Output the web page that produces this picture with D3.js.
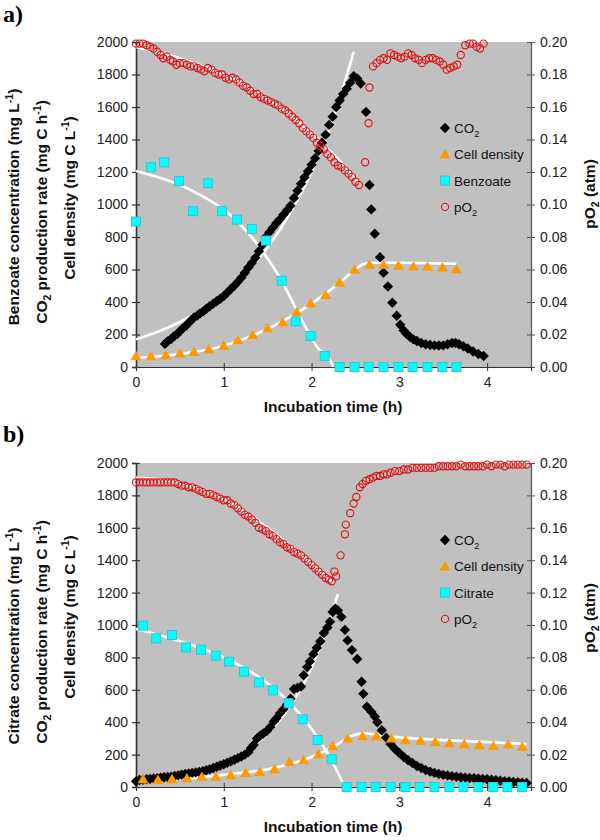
<!DOCTYPE html>
<html><head><meta charset="utf-8">
<script src="https://cdn.jsdelivr.net/npm/d3@7"></script>
<style>body{margin:0;background:#fff}text{font-family:"Liberation Sans",Arial,Helvetica,sans-serif}</style>
</head><body><svg id="c" width="600" height="840"></svg>
<script>
// ---------- data ----------
const xTicks=[0,1,2,3,4];
const yTicks=[0,200,400,600,800,1000,1200,1400,1600,1800,2000];
const pTicks=[0,0.02,0.04,0.06,0.08,0.10,0.12,0.14,0.16,0.18,0.20];

// Panel a (benzoate)
const aCO2=[[0.33,142],[0.36,158],[0.40,172],[0.43,188],[0.47,203],[0.50,220],[0.53,236],[0.57,254],[0.60,272],[0.63,288],[0.66,305],[0.70,318],[0.73,330],[0.77,344],[0.80,358],[0.84,374],[0.88,390],[0.92,405],[0.96,420],[1.00,436],[1.04,458],[1.08,480],[1.12,500],[1.16,524],[1.20,550],[1.24,580],[1.28,612],[1.32,640],[1.36,672],[1.40,712],[1.44,752],[1.48,800],[1.52,830],[1.56,858],[1.60,886],[1.64,910],[1.68,938],[1.72,964],[1.76,992],[1.80,1040],[1.84,1085],[1.88,1128],[1.92,1168],[1.96,1205],[2.00,1245],[2.04,1285],[2.08,1330],[2.12,1380],[2.16,1430],[2.20,1490],[2.24,1540],[2.28,1600],[2.32,1640],[2.36,1680],[2.40,1712],[2.44,1750],[2.48,1790],[2.52,1775],[2.56,1745],[2.62,1570],[2.66,1120],[2.68,970],[2.72,820],[2.78,675],[2.82,580],[2.87,495],[2.92,395],[2.97,315],[3.01,260],[3.05,225],[3.08,205],[3.12,186],[3.16,170],[3.20,160],[3.25,148],[3.30,140],[3.35,135],[3.40,133],[3.45,132],[3.50,133],[3.55,140],[3.60,148],[3.64,148],[3.68,140],[3.73,128],[3.78,114],[3.84,95],[3.90,80],[3.96,68]];
const aCell=[[0,68],[0.17,68],[0.34,74],[0.50,84],[0.66,94],[0.83,111],[1.00,132],[1.16,167],[1.33,198],[1.50,239],[1.67,276],[1.83,338],[1.99,393],[2.16,444],[2.32,519],[2.49,599],[2.66,630],[2.82,630],[2.99,625],[3.16,619],[3.32,619],[3.49,613],[3.65,603]];
const aSub=[[0,895],[0.17,1230],[0.32,1259],[0.49,1144],[0.65,959],[0.82,1131],[0.98,959],[1.15,907],[1.32,850],[1.48,778],[1.66,531],[1.82,280],[1.99,191],[2.15,68],[2.32,0],[2.49,0],[2.65,0],[2.82,0],[2.99,0],[3.15,0],[3.32,0],[3.49,0],[3.65,0]];
const aPO2=[[0,0.199],[0.04,0.199],[0.08,0.199],[0.12,0.198],[0.16,0.197],[0.20,0.196],[0.24,0.194],[0.28,0.192],[0.31,0.190],[0.35,0.191],[0.39,0.189],[0.42,0.188],[0.46,0.186],[0.50,0.187],[0.54,0.187],[0.58,0.186],[0.62,0.185],[0.66,0.185],[0.70,0.184],[0.74,0.183],[0.78,0.182],[0.82,0.184],[0.86,0.183],[0.90,0.181],[0.94,0.180],[0.98,0.180],[1.02,0.178],[1.06,0.177],[1.10,0.178],[1.14,0.177],[1.18,0.175],[1.22,0.173],[1.26,0.172],[1.30,0.170],[1.34,0.168],[1.38,0.168],[1.42,0.166],[1.46,0.165],[1.50,0.164],[1.54,0.163],[1.58,0.162],[1.62,0.161],[1.66,0.159],[1.70,0.158],[1.74,0.156],[1.78,0.154],[1.82,0.152],[1.86,0.150],[1.90,0.147],[1.94,0.145],[1.98,0.143],[2.02,0.141],[2.06,0.138],[2.10,0.136],[2.14,0.134],[2.18,0.131],[2.22,0.129],[2.26,0.126],[2.30,0.124],[2.34,0.123],[2.38,0.121],[2.42,0.119],[2.46,0.117],[2.50,0.114],[2.54,0.112],[2.61,0.126],[2.65,0.150],[2.66,0.172],[2.70,0.185],[2.74,0.187],[2.78,0.189],[2.82,0.190],[2.86,0.189],[2.90,0.193],[2.94,0.192],[2.98,0.191],[3.02,0.190],[3.06,0.191],[3.10,0.193],[3.14,0.192],[3.18,0.190],[3.22,0.189],[3.26,0.187],[3.30,0.189],[3.34,0.190],[3.38,0.190],[3.42,0.189],[3.46,0.188],[3.50,0.186],[3.54,0.183],[3.58,0.184],[3.62,0.185],[3.66,0.186],[3.70,0.192],[3.75,0.198],[3.80,0.199],[3.84,0.199],[3.88,0.197],[3.92,0.196],[3.96,0.199]];
const aFitCO2=[[0,170],[0.25,217],[0.5,277],[0.75,354],[1.0,452],[1.25,577],[1.5,737],[1.75,941],[2.0,1201],[2.25,1533],[2.48,1940]];
const aFitCell=[[0,55],[0.5,80],[1.0,130],[1.5,235],[2.0,390],[2.3,510],[2.5,600],[2.6,635],[2.7,642],[3.0,642],[3.65,635]];
const aFitSub=[[0,1206],[0.65,1082],[1.07,938],[1.41,735],[1.64,549],[1.9,278],[2.06,125],[2.21,43],[2.25,0]];
const aFitPO2=[[0,0.197],[0.5,0.190],[1.0,0.180],[1.5,0.165],[2.0,0.144],[2.3,0.128],[2.55,0.113]];

// Panel b (citrate)
const bCO2=[[0.00,35],[0.04,43],[0.08,45],[0.12,48],[0.16,50],[0.20,53],[0.24,55],[0.28,58],[0.32,60],[0.36,62],[0.40,64],[0.44,68],[0.48,72],[0.52,76],[0.56,80],[0.60,84],[0.64,87],[0.68,90],[0.72,93],[0.76,97],[0.80,103],[0.84,110],[0.88,117],[0.92,125],[0.96,133],[1.00,140],[1.04,150],[1.08,158],[1.12,168],[1.16,178],[1.20,188],[1.24,200],[1.28,215],[1.31,240],[1.34,260],[1.38,300],[1.41,315],[1.45,330],[1.49,345],[1.53,370],[1.57,405],[1.60,425],[1.64,455],[1.68,480],[1.72,510],[1.76,545],[1.80,605],[1.84,612],[1.88,620],[1.91,690],[1.95,740],[1.98,775],[2.02,820],[2.06,860],[2.10,900],[2.14,950],[2.18,985],[2.21,1020],[2.24,1080],[2.27,1100],[2.30,1090],[2.34,1050],[2.38,970],[2.41,905],[2.46,845],[2.52,790],[2.57,650],[2.59,575],[2.63,495],[2.68,465],[2.72,435],[2.75,400],[2.80,350],[2.85,305],[2.90,265],[2.95,235],[3.00,210],[3.05,185],[3.10,165],[3.15,148],[3.20,130],[3.25,117],[3.30,105],[3.35,95],[3.40,87],[3.45,80],[3.50,75],[3.55,71],[3.60,67],[3.65,63],[3.70,60],[3.75,58],[3.80,56],[3.85,54],[3.90,52],[3.95,50],[4.00,48],[4.05,45],[4.10,42],[4.15,39],[4.20,36],[4.25,34],[4.30,31],[4.35,29],[4.40,27],[4.45,25]];
const bCell=[[0.08,49],[0.25,45],[0.41,49],[0.58,55],[0.75,64],[0.91,64],[1.08,74],[1.25,88],[1.41,94],[1.58,111],[1.75,156],[1.91,167],[2.08,204],[2.24,253],[2.41,300],[2.58,315],[2.74,315],[2.91,300],[3.07,290],[3.24,286],[3.41,278],[3.57,272],[3.74,265],[3.91,259],[4.07,255],[4.24,263],[4.40,249]];
const bSub=[[0.08,996],[0.23,918],[0.41,938],[0.57,862],[0.74,846],[0.91,811],[1.06,774],[1.23,712],[1.40,646],[1.56,597],[1.74,517],[1.90,418],[2.07,290],[2.23,171],[2.40,0],[2.57,0],[2.73,0],[2.90,0],[3.07,0],[3.23,0],[3.40,0],[3.57,0],[3.73,0],[3.90,0],[4.07,0],[4.23,0],[4.40,0]];
const bPO2=[[0,0.188],[0.04,0.188],[0.08,0.188],[0.12,0.188],[0.16,0.188],[0.20,0.188],[0.24,0.188],[0.28,0.188],[0.32,0.188],[0.36,0.188],[0.40,0.188],[0.44,0.188],[0.48,0.187],[0.52,0.186],[0.56,0.186],[0.60,0.185],[0.64,0.185],[0.68,0.184],[0.72,0.183],[0.76,0.182],[0.80,0.181],[0.84,0.181],[0.88,0.180],[0.92,0.179],[0.96,0.178],[1.00,0.177],[1.04,0.177],[1.08,0.175],[1.12,0.174],[1.16,0.172],[1.20,0.170],[1.24,0.168],[1.28,0.167],[1.32,0.165],[1.36,0.163],[1.40,0.160],[1.44,0.159],[1.48,0.158],[1.52,0.156],[1.56,0.155],[1.60,0.153],[1.64,0.151],[1.68,0.150],[1.72,0.148],[1.76,0.147],[1.80,0.145],[1.84,0.144],[1.88,0.143],[1.92,0.141],[1.96,0.139],[2.00,0.137],[2.04,0.135],[2.08,0.133],[2.12,0.131],[2.16,0.129],[2.20,0.128],[2.23,0.127],[2.26,0.133],[2.28,0.130],[2.33,0.143],[2.38,0.156],[2.39,0.162],[2.44,0.169],[2.48,0.175],[2.51,0.179],[2.55,0.185],[2.58,0.187],[2.62,0.189],[2.66,0.190],[2.70,0.191],[2.74,0.192],[2.78,0.192],[2.82,0.193],[2.86,0.193],[2.90,0.194],[2.95,0.195],[3.00,0.195],[3.05,0.196],[3.10,0.196],[3.15,0.197],[3.20,0.197],[3.25,0.197],[3.30,0.197],[3.35,0.197],[3.40,0.197],[3.45,0.198],[3.50,0.198],[3.55,0.198],[3.60,0.198],[3.65,0.198],[3.70,0.199],[3.75,0.198],[3.80,0.198],[3.85,0.198],[3.90,0.198],[3.95,0.198],[4.00,0.199],[4.05,0.198],[4.10,0.199],[4.15,0.199],[4.20,0.198],[4.25,0.199],[4.30,0.199],[4.35,0.199],[4.40,0.199],[4.45,0.199]];
const bFitCO2=[[0,30],[0.5,67],[1.0,149],[1.25,222],[1.5,331],[1.75,494],[2.0,736],[2.15,938],[2.3,1190]];
const bFitCell=[[0,40],[0.5,50],[1.0,75],[1.5,110],[2.0,185],[2.3,265],[2.45,315],[2.6,331],[2.9,311],[3.35,294],[3.9,280],[4.45,265]];
const bFitSub=[[0,975],[0.5,900],[1.0,800],[1.5,640],[1.75,520],[2.0,360],[2.2,190],[2.38,0]];
const bFitPO2=[[0,0.191],[0.5,0.188],[1.0,0.178],[1.5,0.160],[2.0,0.138],[2.25,0.126]];

const legendA=["CO2","Cell density","Benzoate","pO2"];
const legendB=["CO2","Cell density","Citrate","pO2"];

// ---------- drawing ----------
const svg=d3.select("#c");
const X0=136,X1=531;
const x=d3.scaleLinear().domain([0,4.5]).range([X0,X1]);

function rich(t,parts,fs){
  let off=0;
  parts.forEach(([s,k])=>{
    const target = k==='sub'? fs*0.28 : k==='sup'? -fs*0.38 : 0;
    const ts=t.append('tspan').text(s).attr('dy',target-off);
    if(k) ts.attr('font-size',fs*0.68);
    off=target;
  });
}

const diamond="M0,-5.2L5.2,0L0,5.2L-5.2,0Z";
const tri="M0,-5.2L5.5,4.2L-5.5,4.2Z";
function drawMarker(g,type,px,py){
  if(type==='co2') g.append('path').attr('d',diamond).attr('transform',`translate(${px},${py})`).attr('fill','#000');
  else if(type==='cell') g.append('path').attr('d',tri).attr('transform',`translate(${px},${py})`).attr('fill','#ff9900');
  else if(type==='sub') g.append('rect').attr('x',px-4.5).attr('y',py-4.5).attr('width',9).attr('height',9).attr('fill','#00ffff').attr('stroke','#33c4d8').attr('stroke-width',1);
  else g.append('circle').attr('cx',px).attr('cy',py).attr('r',3.6).attr('fill','none').attr('stroke','#e01010').attr('stroke-width',1.1);
}

function panel(cfg){
  const y=d3.scaleLinear().domain([0,2000]).range([cfg.bottom,cfg.top]);
  const yp=d3.scaleLinear().domain([0,0.2]).range([cfg.bottom,cfg.top]);
  const g=svg.append('g');
  g.append('rect').attr('x',X0).attr('y',cfg.top).attr('width',X1-X0).attr('height',cfg.bottom-cfg.top).attr('fill','#c0c0c0');
  // axes
  const la=g.append('g').attr('transform',`translate(${X0},0)`).call(d3.axisLeft(y).tickValues(yTicks).tickSize(4).tickFormat(d3.format('d')));
  la.select('.domain').attr('stroke','#333').attr('stroke-width',1.6);
  la.selectAll('.tick line').attr('x2',-4).attr('x1',4).attr('stroke','#333').attr('stroke-width',1.2);
  la.selectAll('.tick text').attr('x',-8).attr('font-size',14).attr('fill','#222');
  const ra=g.append('g').attr('transform',`translate(${X1},0)`).call(d3.axisRight(yp).tickValues(pTicks).tickSize(4).tickFormat(d3.format('.2f')));
  ra.select('.domain').attr('stroke','#555').attr('stroke-width',1.2);
  ra.selectAll('.tick line').attr('x1',-4).attr('x2',4).attr('stroke','#555');
  ra.selectAll('.tick text').attr('x',9).attr('font-size',14).attr('fill','#222');
  const ba=g.append('g').attr('transform',`translate(0,${cfg.bottom})`).call(d3.axisBottom(x).tickValues(xTicks).tickSize(4).tickFormat(d3.format('d')));
  ba.select('.domain').attr('stroke','#333').attr('stroke-width',1.2);
  ba.selectAll('.tick line').attr('y1',-4).attr('y2',4).attr('stroke','#333');
  ba.selectAll('.tick text').attr('y',10).attr('font-size',14).attr('fill','#222');
  g.selectAll('.tick text').style('font-family','"Liberation Sans",Arial,sans-serif');

  // fit lines
  const line=(sc)=>d3.line().x(d=>x(d[0])).y(d=>sc(d[1])).curve(d3.curveMonotoneX);
  [[cfg.fitCO2,y],[cfg.fitCell,y],[cfg.fitSub,y],[cfg.fitPO2,yp]].forEach(([d,sc])=>{
    g.append('path').datum(d).attr('d',line(sc)).attr('fill','none').attr('stroke','#fff').attr('stroke-width',2.6);
  });
  // markers
  const m=g.append('g');
  cfg.co2.forEach(d=>drawMarker(m,'co2',x(d[0]),y(d[1])));
  cfg.cell.forEach(d=>drawMarker(m,'cell',x(d[0]),y(d[1])));
  cfg.sub.forEach(d=>drawMarker(m,'sub',x(d[0]),y(d[1])));
  cfg.po2.forEach(d=>drawMarker(m,'po2',x(d[0]),yp(d[1])));

  // legend
  const types=['co2','cell','sub','po2'];
  cfg.legend.forEach((lab,i)=>{
    const ly=cfg.legY+i*26.3;
    drawMarker(g,types[i],445,ly);
    const t=g.append('text').attr('x',454).attr('y',ly+5).attr('font-size',13.5).attr('fill','#111');
    if(lab==='CO2') rich(t,[['CO',''],['2','sub']],13.5);
    else if(lab==='pO2') rich(t,[['pO',''],['2','sub']],13.5);
    else t.text(lab);
  });

  // titles
  svg.append('text').attr('x',3).attr('y',cfg.labY).style('font-family','"Liberation Serif","Times New Roman",serif').attr('font-weight','bold').attr('font-size',24).text(cfg.label);
  const tt=(xx,yy,parts)=>{const t=svg.append('text').attr('transform',`translate(${xx},${yy}) rotate(-90)`).attr('text-anchor','middle').attr('font-weight','bold').attr('font-size',15.5).attr('fill','#111');rich(t,parts,15.5);};
  tt(19,cfg.t1y,[[cfg.subName+' concentration (mg L',''],['-1','sup'],[')','']]);
  tt(47,cfg.t2y,[['CO',''],['2','sub'],[' production rate (mg C h',''],['-1','sup'],[')','']]);
  tt(75,cfg.t3y,[['Cell density (mg C L',''],['-1','sup'],[')','']]);
  tt(595,cfg.t4y,[['pO',''],['2','sub'],[' (atm)','']]);
  svg.append('text').attr('x',333).attr('y',cfg.bottom+45).attr('text-anchor','middle').attr('font-weight','bold').attr('font-size',15.5).attr('fill','#111').text('Incubation time (h)');
}

panel({top:42,bottom:367,label:'a)',labY:22,legY:128,subName:'Benzoate',t1y:207,t2y:212,t3y:198,t4y:194,
  co2:aCO2,cell:aCell,sub:aSub,po2:aPO2,fitCO2:aFitCO2,fitCell:aFitCell,fitSub:aFitSub,fitPO2:aFitPO2,legend:legendA});
panel({top:463,bottom:787,label:'b)',labY:442,legY:540,subName:'Citrate',t1y:636,t2y:632,t3y:617,t4y:618,
  co2:bCO2,cell:bCell,sub:bSub,po2:bPO2,fitCO2:bFitCO2,fitCell:bFitCell,fitSub:bFitSub,fitPO2:bFitPO2,legend:legendB});
</script></body></html>
